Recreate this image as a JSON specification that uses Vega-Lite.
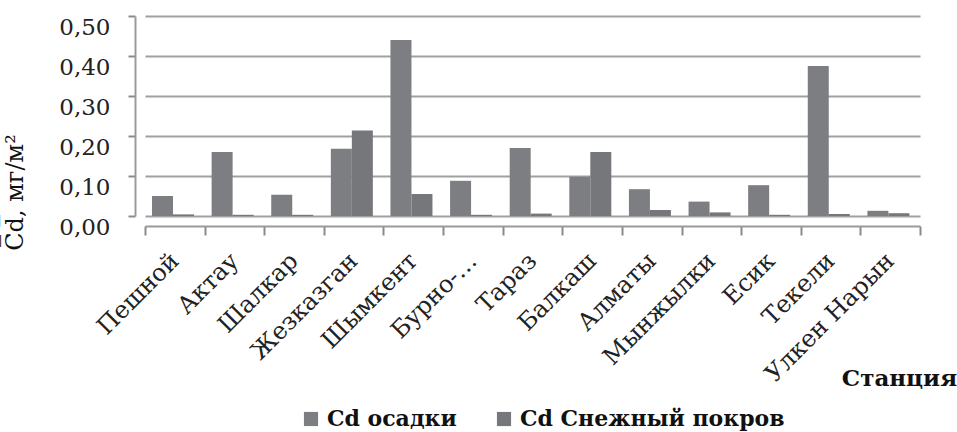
{
  "$schema": "https://vega.github.io/schema/vega-lite/v6.json",
  "width": 775,
  "height": 200,
  "autosize": {"type": "none"},
  "padding": {"left": 145, "top": 16, "right": 37, "bottom": 216},
  "background": "white",
  "config": {"view": {"stroke": null}, "font": "DejaVu Serif"},
  "data": {"values": [
    {"station": "Пешной", "series": "Cd осадки", "value": 0.05},
    {"station": "Пешной", "series": "Cd Снежный покров", "value": 0.004},
    {"station": "Актау", "series": "Cd осадки", "value": 0.16},
    {"station": "Актау", "series": "Cd Снежный покров", "value": 0.003},
    {"station": "Шалкар", "series": "Cd осадки", "value": 0.053},
    {"station": "Шалкар", "series": "Cd Снежный покров", "value": 0.003},
    {"station": "Жезказган", "series": "Cd осадки", "value": 0.168},
    {"station": "Жезказган", "series": "Cd Снежный покров", "value": 0.214},
    {"station": "Шымкент", "series": "Cd осадки", "value": 0.44},
    {"station": "Шымкент", "series": "Cd Снежный покров", "value": 0.055},
    {"station": "Бурно-…", "series": "Cd осадки", "value": 0.088},
    {"station": "Бурно-…", "series": "Cd Снежный покров", "value": 0.003},
    {"station": "Тараз", "series": "Cd осадки", "value": 0.17},
    {"station": "Тараз", "series": "Cd Снежный покров", "value": 0.006},
    {"station": "Балкаш", "series": "Cd осадки", "value": 0.098},
    {"station": "Балкаш", "series": "Cd Снежный покров", "value": 0.16},
    {"station": "Алматы", "series": "Cd осадки", "value": 0.067},
    {"station": "Алматы", "series": "Cd Снежный покров", "value": 0.015},
    {"station": "Мынжылки", "series": "Cd осадки", "value": 0.036},
    {"station": "Мынжылки", "series": "Cd Снежный покров", "value": 0.009},
    {"station": "Есик", "series": "Cd осадки", "value": 0.077},
    {"station": "Есик", "series": "Cd Снежный покров", "value": 0.003},
    {"station": "Текели", "series": "Cd осадки", "value": 0.375},
    {"station": "Текели", "series": "Cd Снежный покров", "value": 0.005},
    {"station": "Улкен Нарын", "series": "Cd осадки", "value": 0.013},
    {"station": "Улкен Нарын", "series": "Cd Снежный покров", "value": 0.007}
  ]},
  "mark": {"type": "bar"},
  "encoding": {
    "x": {
      "field": "station", "type": "nominal", "sort": null,
      "scale": {"paddingInner": 0, "paddingOuter": 0},
      "axis": {
        "title": "Станция",
        "titleFont": "DejaVu Serif", "titleFontSize": 23, "titleFontWeight": "bold", "titleColor": "#111",
        "titleX": 754, "titleY": 152, "titleAlign": "center", "titleBaseline": "middle",
        "offset": 10, "tickOffset": -10, "tickBand": "extent",
        "tickSize": 9, "tickColor": "#8a8a8a", "tickWidth": 2,
        "domainColor": "#9a9a9a", "domainWidth": 2,
        "labelAngle": -45, "labelAlign": "right", "labelBaseline": "middle",
        "labelFontSize": 24, "labelColor": "#222", "labelPadding": 22, "labelLimit": 300, "labelOffset": 0
      }
    },
    "xOffset": {
      "field": "series", "type": "nominal",
      "sort": ["Cd осадки", "Cd Снежный покров"],
      "scale": {"range": [7, 49], "paddingInner": 0, "paddingOuter": 0}
    },
    "y": {
      "field": "value", "type": "quantitative",
      "scale": {"domain": [0, 0.5], "nice": false},
      "axis": {
        "values": [0, 0.1, 0.2, 0.3, 0.4, 0.5],
        "labelExpr": "replace(format(datum.value, '.2f'), '.', ',')",
        "title": "C̅d̅, мг/м²",
        "titleFont": "DejaVu Serif", "titleFontSize": 24, "titleFontWeight": "normal", "titleColor": "#111",
        "titleAngle": -90, "titleX": -120, "titleY": 176, "titleAlign": "center", "titleBaseline": "middle",
        "offset": 10, "tickSize": 7, "tickColor": "#8a8a8a", "tickWidth": 2,
        "domainColor": "#9a9a9a", "domainWidth": 2,
        "labelFontSize": 23, "labelColor": "#222", "labelPadding": 18, "labelOffset": 11, "labelFlush": false,
        "grid": true, "gridColor": "#a0a0a0", "gridWidth": 2
      }
    },
    "color": {
      "field": "series", "type": "nominal",
      "scale": {"domain": ["Cd осадки", "Cd Снежный покров"], "range": ["#7d7e82", "#76777b"]},
      "legend": {
        "title": null, "orient": "none", "direction": "horizontal",
        "legendX": 155, "legendY": 392,
        "symbolType": "square", "symbolSize": 200, "symbolStrokeWidth": 0,
        "labelFont": "DejaVu Serif", "labelFontSize": 22, "labelFontWeight": "bold", "labelColor": "#111",
        "labelOffset": 5, "columnPadding": 36, "labelLimit": 400
      }
    }
  }
}
